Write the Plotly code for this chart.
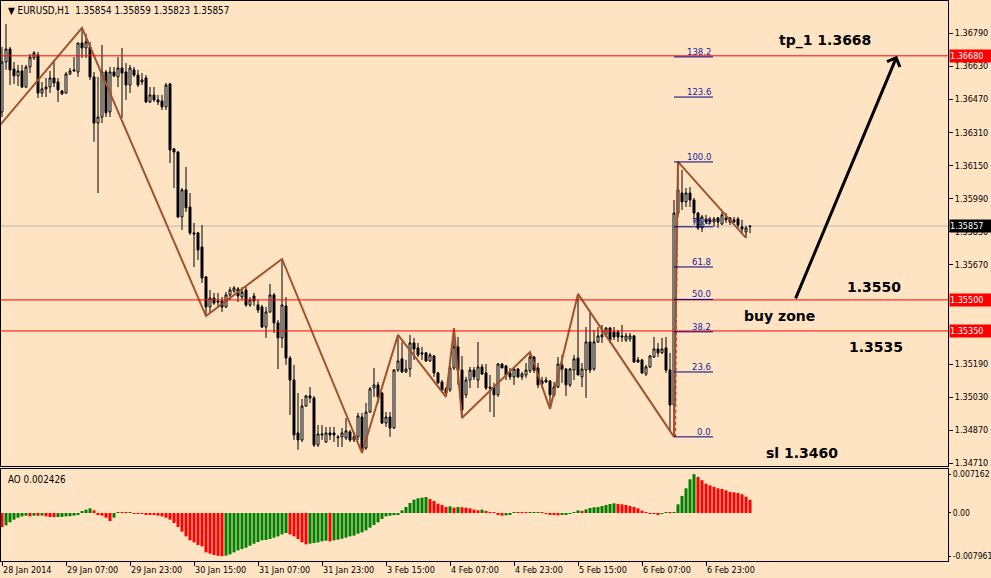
import plotly.graph_objects as go

# ---------------- data ----------------
symbol_header = "EURUSD,H1\u00a0\u00a01.35854 1.35859 1.35823 1.35857"
ao_header = "AO 0.002426"

bar_idx = list(range(188))

opens = [
    1.36409, 1.36650, 1.36713, 1.36616, 1.36583, 1.36607, 1.36529, 1.36626, 1.36670, 1.36684,
    1.36500, 1.36520, 1.36529, 1.36573, 1.36554, 1.36510, 1.36500, 1.36592, 1.36607, 1.36602,
    1.36742, 1.36718, 1.36723, 1.36578, 1.36355, 1.36384, 1.36602, 1.36409, 1.36602, 1.36578,
    1.36621, 1.36602, 1.36539, 1.36612, 1.36587, 1.36554, 1.36573, 1.36457, 1.36491, 1.36467,
    1.36462, 1.36433, 1.36544, 1.36230, 1.36215, 1.35901, 1.36032, 1.35949, 1.35824, 1.35824,
    1.35756, 1.35611, 1.35466, 1.35509, 1.35495, 1.35495, 1.35466, 1.35524, 1.35543, 1.35553,
    1.35514, 1.35548, 1.35476, 1.35519, 1.35476, 1.35466, 1.35369, 1.35442, 1.35524, 1.35389,
    1.35316, 1.35471, 1.35219, 1.35113, 1.34857, 1.34823, 1.34987, 1.35036, 1.35026, 1.34799,
    1.34847, 1.34813, 1.34857, 1.34857, 1.34833, 1.34838, 1.34833, 1.34862, 1.34823, 1.34838,
    1.34934, 1.34784, 1.34958, 1.35074, 1.35089, 1.35050, 1.34905, 1.34934, 1.34881, 1.35161,
    1.35215, 1.35152, 1.35166, 1.35292, 1.35268, 1.35244, 1.35244, 1.35205, 1.35229, 1.35147,
    1.35103, 1.35070, 1.35065, 1.35171, 1.35273, 1.35161, 1.35041, 1.35113, 1.35161, 1.35113,
    1.35176, 1.35147, 1.35079, 1.35079, 1.35041, 1.35190, 1.35181, 1.35147, 1.35128, 1.35166,
    1.35128, 1.35137, 1.35157, 1.35224, 1.35171, 1.35108, 1.35113, 1.35108, 1.35041, 1.35079,
    1.35186, 1.35166, 1.35089, 1.35161, 1.35219, 1.35128, 1.35161, 1.35297, 1.35166, 1.35297,
    1.35321, 1.35331, 1.35364, 1.35345, 1.35345, 1.35326, 1.35306, 1.35311, 1.35326, 1.35210,
    1.35210, 1.35142, 1.35176, 1.35224, 1.35263, 1.35244, 1.35268, 1.35161, 1.34992, 1.35920,
    1.36017, 1.35974, 1.36017, 1.35983, 1.35920, 1.35848, 1.35891, 1.35887, 1.35877, 1.35896,
    1.35867, 1.35896, 1.35896, 1.35887, 1.35891, 1.35853, 1.35829, 1.35854,
]
highs = [
    1.36723, 1.36834, 1.36723, 1.36650, 1.36636, 1.36636, 1.36636, 1.36689, 1.36703, 1.36699,
    1.36554, 1.36573, 1.36607, 1.36660, 1.36573, 1.36515, 1.36602, 1.36621, 1.36674, 1.36742,
    1.36815, 1.36786, 1.36747, 1.36602, 1.36578, 1.36732, 1.36612, 1.36626, 1.36626, 1.36674,
    1.36718, 1.36645, 1.36636, 1.36626, 1.36612, 1.36597, 1.36587, 1.36529, 1.36529, 1.36491,
    1.36491, 1.36549, 1.36549, 1.36235, 1.36220, 1.36041, 1.36143, 1.36017, 1.35872, 1.35829,
    1.35862, 1.35616, 1.35548, 1.35534, 1.35534, 1.35514, 1.35538, 1.35562, 1.35567, 1.35562,
    1.35562, 1.35562, 1.35514, 1.35534, 1.35500, 1.35476, 1.35466, 1.35577, 1.35534, 1.35403,
    1.35698, 1.35514, 1.35229, 1.35186, 1.35050, 1.35021, 1.35041, 1.35079, 1.35036, 1.34896,
    1.34896, 1.34886, 1.34886, 1.34886, 1.34847, 1.34881, 1.34929, 1.34871, 1.34862, 1.34954,
    1.34954, 1.35002, 1.35079, 1.35171, 1.35103, 1.35055, 1.34958, 1.34958, 1.35166, 1.35331,
    1.35297, 1.35210, 1.35331, 1.35316, 1.35292, 1.35273, 1.35248, 1.35244, 1.35234, 1.35152,
    1.35113, 1.35079, 1.35181, 1.35364, 1.35321, 1.35229, 1.35128, 1.35176, 1.35176, 1.35297,
    1.35190, 1.35190, 1.35137, 1.35099, 1.35195, 1.35195, 1.35186, 1.35171, 1.35171, 1.35171,
    1.35152, 1.35195, 1.35248, 1.35229, 1.35195, 1.35128, 1.35128, 1.35113, 1.35103, 1.35224,
    1.35234, 1.35171, 1.35171, 1.35234, 1.35529, 1.35195, 1.35369, 1.35437, 1.35355, 1.35369,
    1.35379, 1.35369, 1.35369, 1.35369, 1.35355, 1.35379, 1.35340, 1.35340, 1.35331, 1.35224,
    1.35215, 1.35186, 1.35234, 1.35321, 1.35292, 1.35316, 1.35321, 1.35244, 1.35983, 1.36167,
    1.36128, 1.36041, 1.36046, 1.35993, 1.35925, 1.35911, 1.35911, 1.35901, 1.35901, 1.35901,
    1.35925, 1.35920, 1.35901, 1.35901, 1.35901, 1.35887, 1.35858, 1.35859,
]
lows = [
    1.36384, 1.36612, 1.36539, 1.36544, 1.36534, 1.36525, 1.36525, 1.36597, 1.36660, 1.36476,
    1.36481, 1.36481, 1.36500, 1.36529, 1.36457, 1.36491, 1.36496, 1.36587, 1.36602, 1.36578,
    1.36670, 1.36670, 1.36563, 1.36264, 1.36017, 1.36355, 1.36384, 1.36384, 1.36578, 1.36529,
    1.36380, 1.36467, 1.36500, 1.36578, 1.36529, 1.36539, 1.36452, 1.36452, 1.36457, 1.36442,
    1.36418, 1.36418, 1.36162, 1.36041, 1.35896, 1.35838, 1.35925, 1.35814, 1.35659, 1.35693,
    1.35582, 1.35422, 1.35437, 1.35476, 1.35466, 1.35442, 1.35461, 1.35500, 1.35534, 1.35490,
    1.35500, 1.35466, 1.35466, 1.35471, 1.35437, 1.35364, 1.35316, 1.35437, 1.35340, 1.35166,
    1.35268, 1.35186, 1.34944, 1.34823, 1.34775, 1.34813, 1.34983, 1.35002, 1.34789, 1.34789,
    1.34823, 1.34808, 1.34823, 1.34813, 1.34789, 1.34789, 1.34823, 1.34813, 1.34813, 1.34823,
    1.34760, 1.34775, 1.34954, 1.35031, 1.35002, 1.34900, 1.34886, 1.34838, 1.34876, 1.35152,
    1.35147, 1.35147, 1.35128, 1.35210, 1.35224, 1.35210, 1.35200, 1.35200, 1.35128, 1.35094,
    1.35050, 1.35031, 1.35055, 1.35161, 1.35089, 1.34929, 1.35026, 1.35074, 1.35113, 1.35074,
    1.35137, 1.35065, 1.34958, 1.34934, 1.35031, 1.35171, 1.35113, 1.35113, 1.35089, 1.35123,
    1.35113, 1.35123, 1.35147, 1.35147, 1.35074, 1.35079, 1.35099, 1.34973, 1.35031, 1.35074,
    1.35099, 1.35036, 1.35079, 1.35113, 1.35137, 1.35079, 1.35026, 1.35147, 1.35157, 1.35292,
    1.35292, 1.35321, 1.35292, 1.35306, 1.35297, 1.35297, 1.35297, 1.35297, 1.35195, 1.35195,
    1.35142, 1.35132, 1.35171, 1.35219, 1.35224, 1.35239, 1.35147, 1.34871, 1.34838, 1.35901,
    1.35935, 1.35949, 1.35949, 1.35872, 1.35838, 1.35829, 1.35867, 1.35867, 1.35853, 1.35848,
    1.35862, 1.35872, 1.35862, 1.35872, 1.35848, 1.35824, 1.35800, 1.35823,
]
closes = [
    1.36650, 1.36713, 1.36612, 1.36583, 1.36607, 1.36529, 1.36626, 1.36674, 1.36694, 1.36500,
    1.36520, 1.36529, 1.36573, 1.36549, 1.36515, 1.36496, 1.36592, 1.36607, 1.36612, 1.36742,
    1.36718, 1.36747, 1.36578, 1.36355, 1.36384, 1.36602, 1.36404, 1.36602, 1.36583, 1.36621,
    1.36597, 1.36539, 1.36621, 1.36587, 1.36539, 1.36563, 1.36457, 1.36491, 1.36467, 1.36457,
    1.36433, 1.36539, 1.36225, 1.36215, 1.35901, 1.36032, 1.35945, 1.35824, 1.35819, 1.35741,
    1.35606, 1.35466, 1.35509, 1.35485, 1.35490, 1.35466, 1.35524, 1.35548, 1.35558, 1.35519,
    1.35538, 1.35476, 1.35500, 1.35495, 1.35451, 1.35369, 1.35442, 1.35524, 1.35389, 1.35316,
    1.35476, 1.35219, 1.35113, 1.34847, 1.34823, 1.34987, 1.35036, 1.35026, 1.34799, 1.34852,
    1.34852, 1.34857, 1.34847, 1.34847, 1.34838, 1.34857, 1.34867, 1.34823, 1.34838, 1.34939,
    1.34784, 1.34958, 1.35070, 1.35089, 1.35031, 1.34905, 1.34934, 1.34881, 1.35161, 1.35205,
    1.35152, 1.35166, 1.35292, 1.35263, 1.35234, 1.35239, 1.35205, 1.35234, 1.35147, 1.35099,
    1.35065, 1.35050, 1.35171, 1.35273, 1.35161, 1.34968, 1.35113, 1.35161, 1.35128, 1.35176,
    1.35142, 1.35074, 1.35074, 1.35041, 1.35190, 1.35171, 1.35137, 1.35128, 1.35166, 1.35128,
    1.35142, 1.35161, 1.35224, 1.35161, 1.35089, 1.35094, 1.35103, 1.35041, 1.35079, 1.35190,
    1.35166, 1.35089, 1.35166, 1.35215, 1.35137, 1.35166, 1.35297, 1.35161, 1.35297, 1.35326,
    1.35331, 1.35364, 1.35306, 1.35321, 1.35321, 1.35321, 1.35326, 1.35326, 1.35200, 1.35200,
    1.35147, 1.35176, 1.35229, 1.35263, 1.35244, 1.35263, 1.35161, 1.34992, 1.35920, 1.36032,
    1.35974, 1.36017, 1.35983, 1.35920, 1.35848, 1.35901, 1.35877, 1.35877, 1.35891, 1.35877,
    1.35911, 1.35887, 1.35877, 1.35877, 1.35862, 1.35843, 1.35848, 1.35857,
]

ao_values = [
    -0.00258, -0.00228, -0.00172, -0.00123, -0.00086, -0.00062, -0.00049, -0.00062, -0.00049, -0.00050,
    -0.00048, -0.00062, -0.00074, -0.00075, -0.00074, -0.00072, -0.00062, -0.00060, -0.00049, -0.00025,
    0.00025, 0.00062, 0.00086, 0.00049, -0.00025, -0.00049, -0.00086, -0.00148, -0.00086, 0.00010,
    0.00008, 0.00006, 0.00009, -0.00012, -0.00013, -0.00014, -0.00025, -0.00026, -0.00037, -0.00049,
    -0.00062, -0.00086, -0.00123, -0.00185, -0.00258, -0.00344, -0.00431, -0.00504, -0.00541, -0.00590,
    -0.00615, -0.00726, -0.00750, -0.00775, -0.00790, -0.00796, -0.00787, -0.00763, -0.00726, -0.00689,
    -0.00664, -0.00640, -0.00603, -0.00566, -0.00535, -0.00504, -0.00498, -0.00480, -0.00455, -0.00431,
    -0.00394, -0.00369, -0.00394, -0.00431, -0.00480, -0.00541, -0.00578, -0.00566, -0.00554, -0.00541,
    -0.00523, -0.00510, -0.00523, -0.00504, -0.00492, -0.00474, -0.00455, -0.00431, -0.00418, -0.00381,
    -0.00357, -0.00320, -0.00271, -0.00221, -0.00172, -0.00111, -0.00062, -0.00049, -0.00040, -0.00025,
    0.00049, 0.00111, 0.00185, 0.00246, 0.00271, 0.00283, 0.00295, 0.00258, 0.00221, 0.00172,
    0.00148, 0.00111, 0.00123, 0.00098, 0.00111, 0.00105, 0.00098, 0.00086, 0.00062, 0.00049,
    0.00062, 0.00037, 0.00018, 0.00006, -0.00025, -0.00049, -0.00043, -0.00031, 0.00012, 0.00010,
    0.00008, 0.00007, 0.00009, 0.00010, 0.00012, 0.00008, -0.00012, -0.00025, -0.00037, -0.00043,
    -0.00031, -0.00025, -0.00012, 0.00010, 0.00049, 0.00031, 0.00068, 0.00092, 0.00105, 0.00111,
    0.00129, 0.00148, 0.00166, 0.00178, 0.00166, 0.00160, 0.00148, 0.00129, 0.00111, 0.00086,
    0.00043, 0.00010, -0.00008, -0.00012, -0.00025, -0.00012, 0.00012, 0.00008, 0.00018, 0.00160,
    0.00314, 0.00455, 0.00621, 0.00716, 0.00664, 0.00603, 0.00541, 0.00510, 0.00480, 0.00455,
    0.00443, 0.00418, 0.00388, 0.00381, 0.00369, 0.00345, 0.00300, 0.002426,
]

time_tick_bars = [0, 16, 32, 48, 64, 80, 96, 112, 128, 144, 160, 176]
time_tick_labels = ["28 Jan 2014", "29 Jan 07:00", "29 Jan 23:00", "30 Jan 15:00",
                    "31 Jan 07:00", "31 Jan 23:00", "3 Feb 15:00", "4 Feb 07:00",
                    "4 Feb 23:00", "5 Feb 15:00", "6 Feb 07:00", "6 Feb 23:00"]
price_ticks = [1.36790, 1.36630, 1.36470, 1.36310, 1.36150, 1.35990, 1.35830,
               1.35670, 1.35190, 1.35030, 1.34870, 1.34710]
ao_ticks = [0.007162, 0.0, -0.007961]
ao_tick_labels = ["0.007162", "0.00", "-0.007961"]

zigzag_bars = [-0.5, 20, 51, 70, 90, 99, 111, 113, 115, 132, 137, 144, 168, 169, 186]
zigzag_prices = [1.36345, 1.36815, 1.35422, 1.35698, 1.34760, 1.35331, 1.35031, 1.35364,
                 1.34929, 1.35248, 1.34973, 1.35529, 1.34838, 1.36167, 1.35800]

fib_low_bar, fib_high_bar = 168, 169
fib_low, fib_high = 1.34838, 1.36167
fib_ratios = [0.0, 23.6, 38.2, 50.0, 61.8, 76.4, 100.0, 123.6, 138.2]

tp_level = 1.3668
buy_upper = 1.3550
buy_lower = 1.3535
sl_level = 1.3460
bid_price = 1.35857

# ---------------- style ----------------
BG = "#FFE4C4"
AXFONT = dict(family="DejaVu Sans Condensed, DejaVu Sans, Liberation Sans", size=9, color="black")
AOFONT = dict(family="DejaVu Sans Condensed, DejaVu Sans, Liberation Sans", size=8.6, color="black")
BOLD = dict(family="DejaVu Sans", size=14, color="black", weight="bold")
X_RANGE = [-0.25, 236.5]

fig = go.Figure()

fig.add_trace(go.Candlestick(
    x=bar_idx, open=opens, high=highs, low=lows, close=closes,
    xaxis="x", yaxis="y",
    increasing=dict(line=dict(color="black", width=1), fillcolor="white"),
    decreasing=dict(line=dict(color="black", width=1), fillcolor="black"),
    whiskerwidth=0, showlegend=False, hoverinfo="skip"))

fig.add_trace(go.Scatter(
    x=zigzag_bars, y=zigzag_prices, mode="lines", xaxis="x", yaxis="y",
    line=dict(color="#A0522D", width=2), showlegend=False, hoverinfo="skip"))

ao_colors = ["#FF0000"] + ["#008000" if ao_values[i] > ao_values[i - 1] else "#FF0000"
                           for i in range(1, len(ao_values))]
fig.add_trace(go.Bar(
    x=bar_idx, y=ao_values, xaxis="x2", yaxis="y2", marker=dict(color=ao_colors, line=dict(width=0)),
    showlegend=False, hoverinfo="skip"))

shapes = []
shapes.append(dict(type="line", xref="paper", x0=0, x1=1, yref="y", y0=bid_price, y1=bid_price,
                   line=dict(color="#B8B8B8", width=1), layer="below"))
for lv in (tp_level, buy_upper, buy_lower):
    shapes.append(dict(type="line", xref="paper", x0=0, x1=1, yref="y", y0=lv, y1=lv,
                       line=dict(color="#FF0000", width=1), layer="above"))
shapes.append(dict(type="line", xref="x", yref="y", x0=fib_low_bar + 0.4, x1=fib_high_bar - 0.1,
                   y0=fib_low, y1=fib_high, line=dict(color="#FF0000", width=1, dash="dot"), layer="below"))
fib_ext = 9.75
annotations = []
for r in fib_ratios:
    lv = fib_low + (fib_high - fib_low) * r / 100.0
    shapes.append(dict(type="line", xref="x", yref="y", x0=fib_low_bar, x1=fib_low_bar + fib_ext,
                       y0=lv, y1=lv, line=dict(color="#000080", width=1), layer="above"))
    annotations.append(dict(x=fib_low_bar + fib_ext, y=lv, xref="x", yref="y", text=f"{r:.1f}",
                            showarrow=False, xanchor="right", yanchor="bottom", yshift=-2,
                            font=dict(family="DejaVu Sans Condensed, Liberation Sans", size=9.5, color="#1A1AA0")))

for val, bg in ((tp_level, "#FF0000"), (bid_price, "#000000"), (buy_upper, "#FF0000"), (buy_lower, "#FF0000")):
    annotations.append(dict(x=1, xref="paper", y=val, yref="y", text=f"{val:.5f}", showarrow=False,
                            xanchor="left", xshift=1, bgcolor=bg, borderpad=0, width=42, height=12,
                            align="left", font=dict(AXFONT, color="white")))

annotations.append(dict(x=0, xref="paper", y=1, yref="paper", xanchor="left", yanchor="top",
                        xshift=5, yshift=-2, showarrow=False,
                        text="\u25BC\u00a0" + symbol_header,
                        font=dict(family="DejaVu Sans Condensed, DejaVu Sans", size=9.8, color="black")))
annotations.append(dict(x=0, xref="paper", y=1, yref="y2 domain", xanchor="left", yanchor="top",
                        xshift=5, yshift=-3, showarrow=False, text=ao_header,
                        font=dict(family="DejaVu Sans Condensed, DejaVu Sans", size=9.8, color="black")))

annotations += [
    dict(x=205.75, y=1.36752, xref="x", yref="y", text="tp_1 1.3668", showarrow=False, font=BOLD),
    dict(x=218, y=1.35563, xref="x", yref="y", text="1.3550", showarrow=False, font=BOLD),
    dict(x=194.25, y=1.35422, xref="x", yref="y", text="buy zone", showarrow=False, font=BOLD),
    dict(x=218.5, y=1.35273, xref="x", yref="y", text="1.3535", showarrow=False, font=BOLD),
    dict(x=200, y=1.34760, xref="x", yref="y", text="sl 1.3460", showarrow=False, font=BOLD),
    dict(x=223.75, y=tp_level, xref="x", yref="y", ax=198.25, ay=buy_upper, axref="x", ayref="y",
         text="", showarrow=True, arrowhead=4, arrowsize=0.9, arrowwidth=3, arrowcolor="black"),
]

fig.update_layout(
    width=991, height=578,
    margin=dict(l=1, r=43, t=1, b=17, autoexpand=False),
    paper_bgcolor=BG, plot_bgcolor=BG,
    showlegend=False, bargap=0.25,
    shapes=shapes, annotations=annotations,
    xaxis=dict(domain=[0, 1], anchor="y", range=X_RANGE, showticklabels=False, ticks="",
               showgrid=False, zeroline=False, showline=True, linecolor="black", linewidth=1,
               mirror=True, rangeslider=dict(visible=False), fixedrange=True, automargin=False),
    xaxis2=dict(domain=[0, 1], anchor="y2", range=X_RANGE, matches="x",
                tickmode="array", tickvals=time_tick_bars, ticktext=time_tick_labels,
                ticklabelposition="outside right", ticks="outside", ticklen=4, tickcolor="black",
                tickfont=AXFONT, showgrid=False, zeroline=False, showline=True, linecolor="black",
                linewidth=1, mirror=True, fixedrange=True, automargin=False),
    yaxis=dict(domain=[0.1696, 1], anchor="x", range=[1.34697, 1.36945], side="right",
               tickmode="array", tickvals=price_ticks, ticktext=[f"{v:.5f}" for v in price_ticks],
               ticks="outside", ticklen=4, tickcolor="black", tickfont=AXFONT,
               showgrid=False, zeroline=False, showline=True, linecolor="black", linewidth=1,
               mirror=True, fixedrange=True, automargin=False),
    yaxis2=dict(domain=[0, 0.1643], anchor="x2", range=[-0.00885, 0.00811], side="right",
                tickmode="array", tickvals=ao_ticks, ticktext=ao_tick_labels,
                ticks="outside", ticklen=2, tickcolor="black", tickfont=AOFONT,
                showgrid=False, zeroline=False, showline=True, linecolor="black", linewidth=1,
                mirror=True, fixedrange=True, automargin=False),
)

fig.write_html("out.html", config={"displayModeBar": False},
               post_script="document.body.style.margin='0';document.body.style.overflow='hidden';")
